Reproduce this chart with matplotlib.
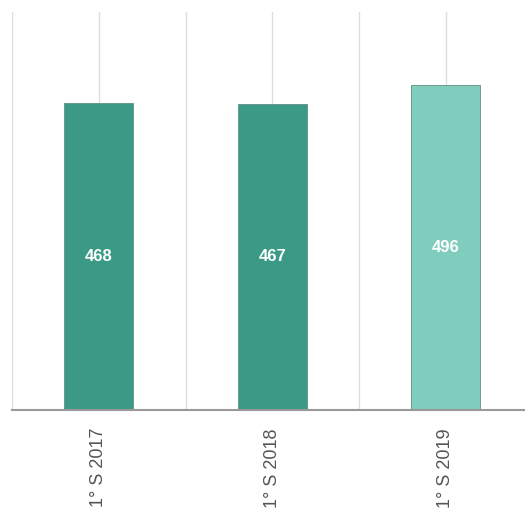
import matplotlib.pyplot as plt

plt.rcParams['font.family'] = ['Liberation Sans', 'DejaVu Sans']

categorie = ["1° S 2017", "1° S 2018", "1° S 2019"]
valori = [468, 467, 496]
colori = ["#3a9a86", "#3a9a86", "#80cdbd"]

fig = plt.figure(figsize=(5.25, 5.21), dpi=100)
ax = fig.add_axes([12/525, 111/521, 513/525, 398/521])

x = list(range(len(categorie)))
ax.bar(x, valori, width=0.4, color=colori, edgecolor="#5f8f85", linewidth=0.6, zorder=3)

for xi, v in zip(x, valori):
    ax.text(xi, v / 2, str(v), ha="center", va="center", color="white",
            fontsize=12, fontweight="bold", zorder=4)

# griglia verticale ai centri e ai bordi delle categorie
for g in [-0.5, 0, 0.5, 1, 1.5, 2, 2.5]:
    ax.axvline(g, color="#dddddd", linewidth=1, zorder=1)

ax.set_xlim(-0.5, 2 + 79/173)
ax.set_ylim(0, 607)
ax.set_xticks(x)
ax.set_xticklabels(categorie, rotation=90, fontsize=13, color="#555555")
ax.tick_params(axis="x", length=0, pad=13)
ax.set_yticks([])
for s in ["top", "right", "left"]:
    ax.spines[s].set_visible(False)
ax.spines["bottom"].set_color("#999999")
ax.spines["bottom"].set_linewidth(1.5)
ax.spines["bottom"].set_zorder(5)

fig.savefig("out.png", dpi=100)
